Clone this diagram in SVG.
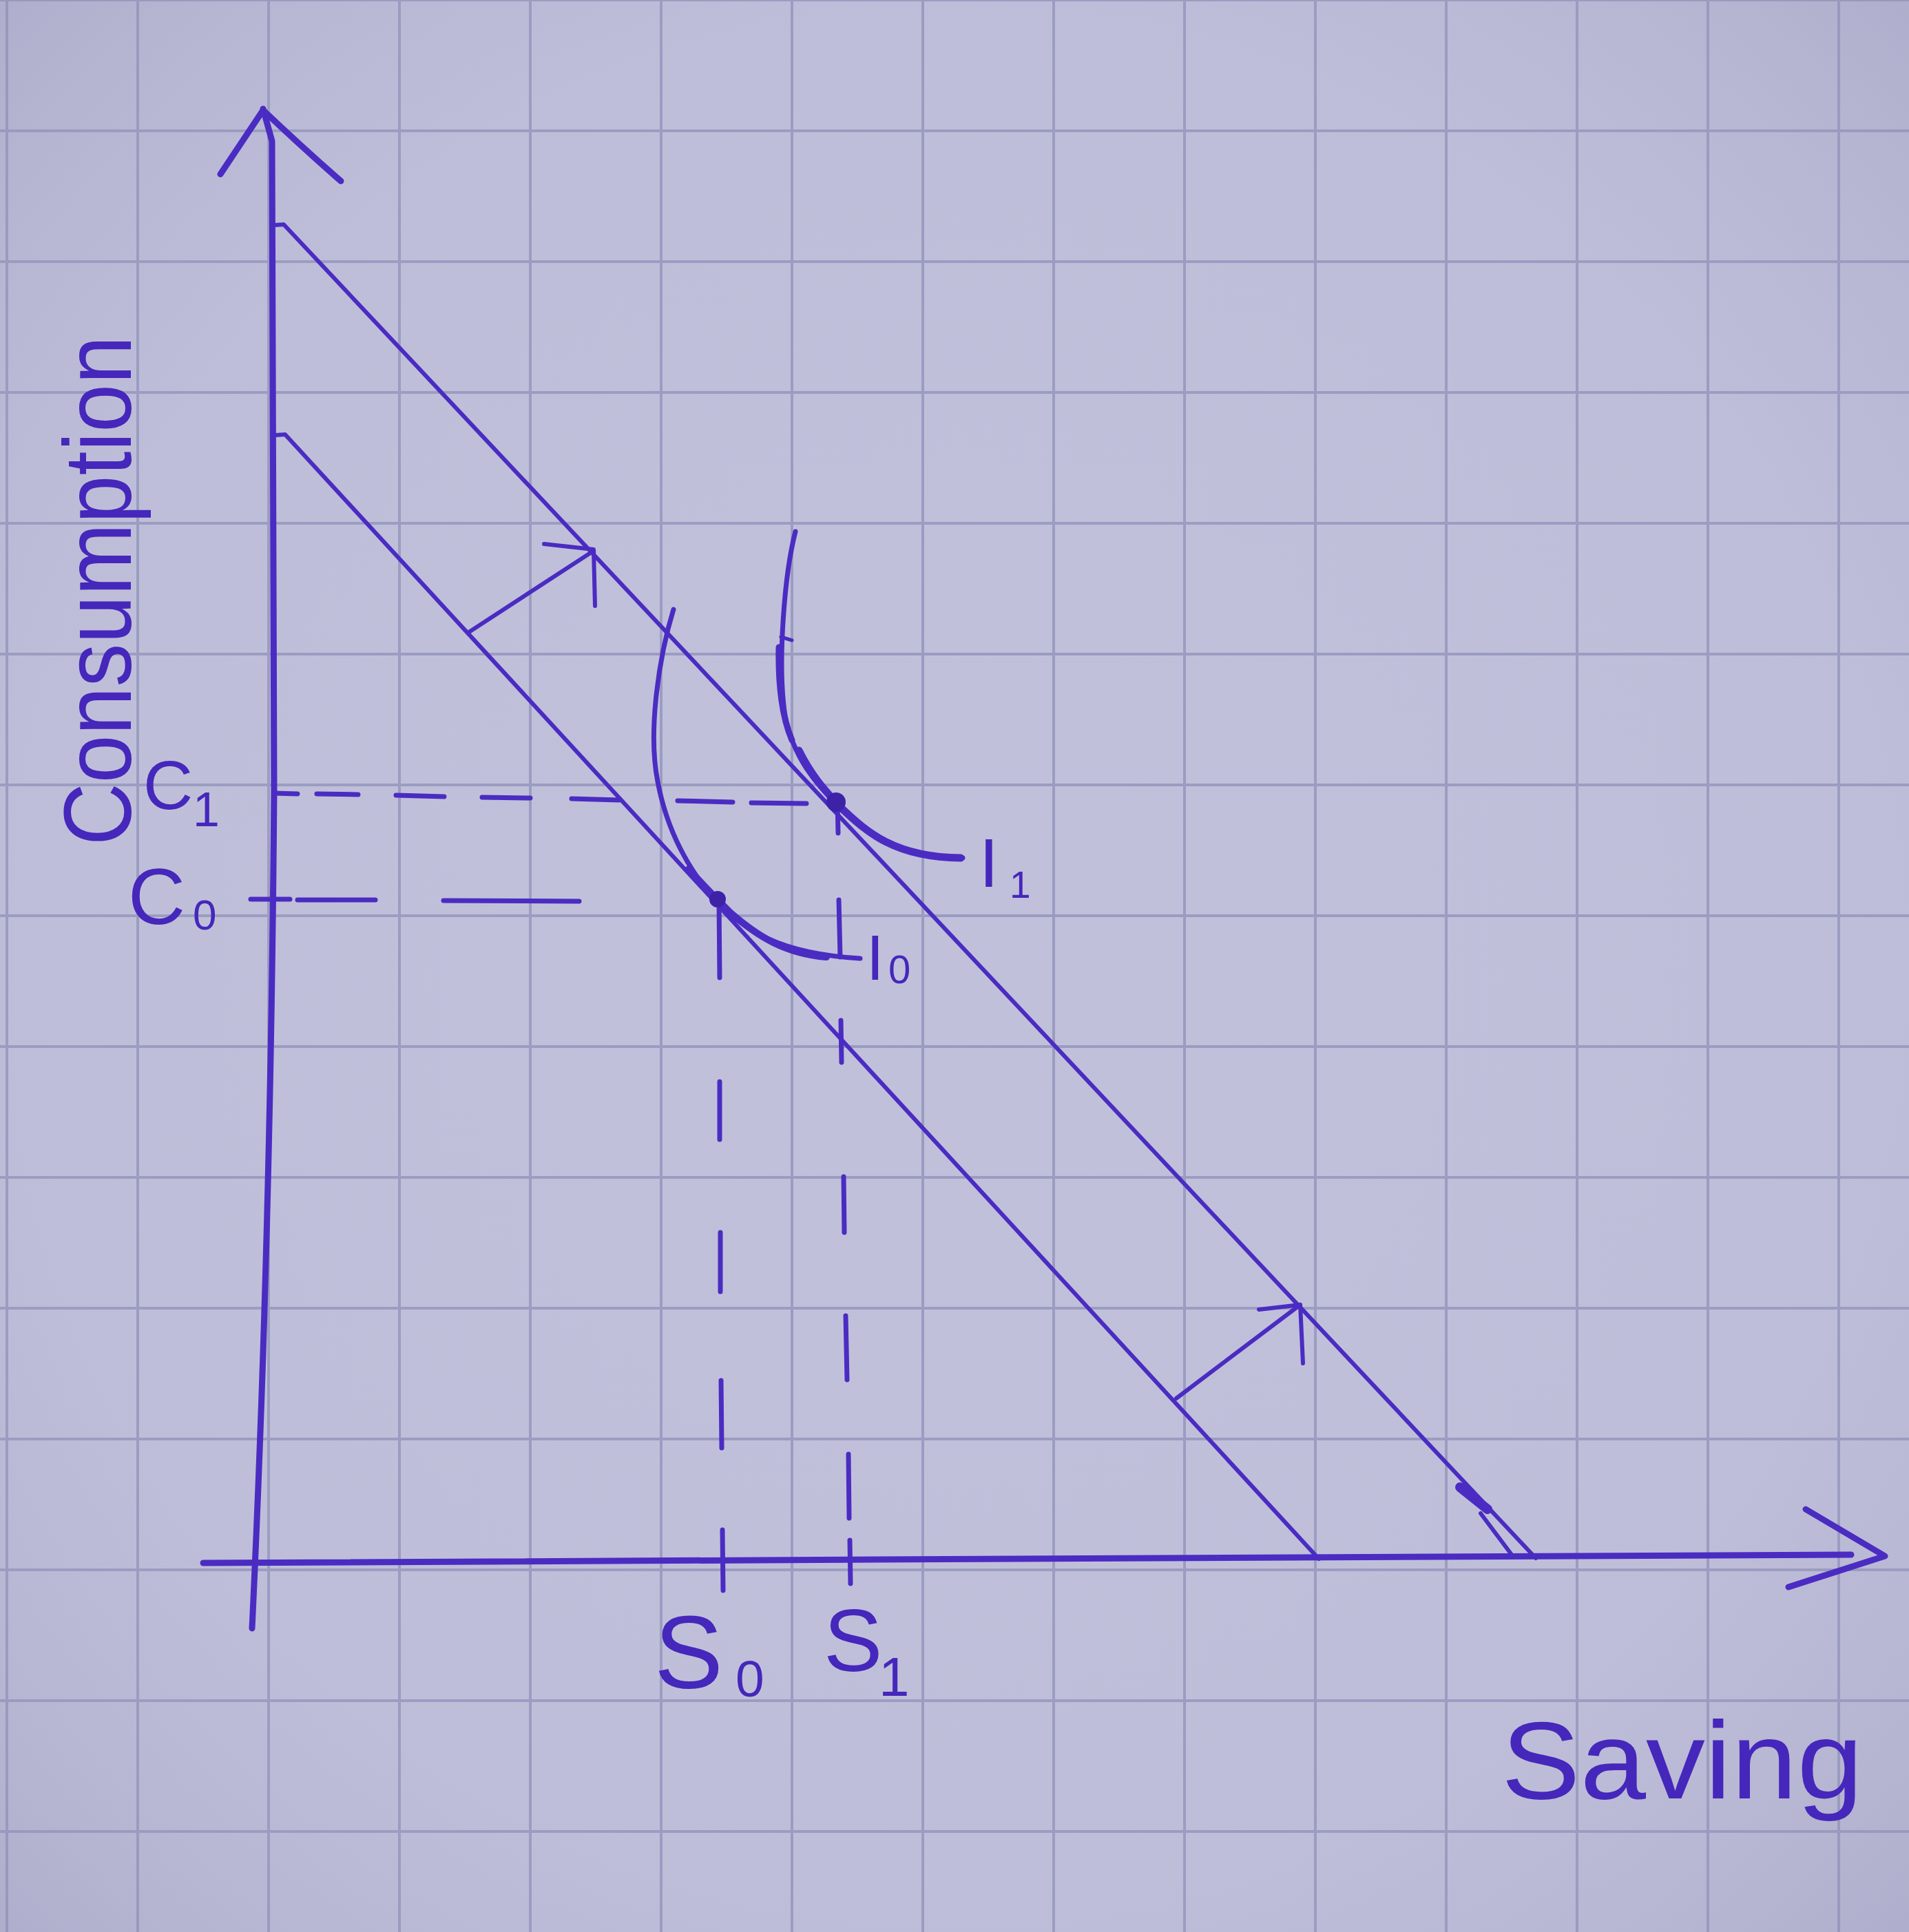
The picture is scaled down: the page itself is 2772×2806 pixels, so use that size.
<svg xmlns="http://www.w3.org/2000/svg" width="2772" height="2806" viewBox="0 0 2772 2806">
  <defs>
    <radialGradient id="vignette" cx="50%" cy="50%" r="75%">
      <stop offset="0" stop-color="#c4c3dd" stop-opacity="0"/>
      <stop offset="0.65" stop-color="#a9a8c8" stop-opacity="0.1"/>
      <stop offset="1" stop-color="#8e8db0" stop-opacity="0.45"/>
    </radialGradient>
    <pattern id="grid" width="190" height="190" patternUnits="userSpaceOnUse" x="8" y="-2">
      <path d="M2 0 V190 M0 2 H190" stroke="#999bc0" stroke-width="4" fill="none"/>
    </pattern>
    <style>
      .ink { fill: none; stroke: #4a2cc2; stroke-linecap: round; stroke-linejoin: round; }
      .axis { stroke-width: 9; }
      .line { stroke-width: 6; }
      .curve { stroke-width: 7; }
      .thick { stroke-width: 11; }
      .dash { stroke-width: 7; }
      .arrow { stroke-width: 6; }
      .lbl { fill: #4527bb; font-family: "Liberation Sans", "DejaVu Sans", sans-serif; }
      .blob { fill: #3d22a8; }
    </style>
  </defs>

  <g id="paper">
    <rect x="0" y="0" width="2772" height="2806" fill="#c1c0db"/>
    <rect x="0" y="0" width="2772" height="2806" fill="url(#grid)"/>
    <rect x="0" y="0" width="2772" height="2806" fill="url(#vignette)"/>
  </g>

  <g id="axes">
    <path class="ink axis" d="M382,158 L395,205 L398,1150 Q393,1800 366,2365"/>
    <path class="ink axis" d="M320,253 L382,160 Q440,215 495,263"/>
    <path class="ink axis" d="M295,2270 L2688,2258"/>
    <path class="ink axis" d="M2622,2192 L2737,2260 L2597,2305"/>
  </g>

  <g id="budget-lines">
    <path class="ink line" d="M398,327 L412,326 L2230,2263"/>
    <path class="ink line" d="M2150,2198 L2195,2258"/>
    <path class="ink" stroke-width="14" d="M2120,2160 L2160,2192"/>
    <path class="ink line" d="M400,632 L414,631 L1915,2264"/>
  </g>

  <g id="shift-arrows">
    <path class="ink arrow" d="M681,918 L862,800"/>
    <path class="ink arrow" d="M790,790 L862,798 L864,880"/>
    <path class="ink arrow" d="M1708,2031 L1888,1895"/>
    <path class="ink arrow" d="M1828,1902 L1888,1895 L1892,1980"/>
  </g>

  <g id="guides">
    <path class="ink dash" d="M398,1152 L432,1153 M460,1153 L520,1154 M575,1155 L645,1157 M700,1158 L770,1159 M830,1160 L899,1162 M984,1163 L1064,1165 M1091,1166 L1171,1167"/>
    <path class="ink dash" d="M364,1306 L421,1306 M432,1307 L545,1307 M644,1308 L841,1309"/>
    <path class="ink dash" d="M1044,1306 L1045,1420 M1045,1571 L1045,1655 M1046,1790 L1046,1876 M1047,2005 L1048,2103 M1049,2222 L1050,2310"/>
    <path class="ink dash" d="M1216,1160 L1217,1210 M1218,1307 L1220,1390 M1221,1482 L1222,1543 M1225,1709 L1226,1790 M1228,1911 L1230,2004 M1232,2112 L1233,2205 M1234,2237 L1235,2300"/>
  </g>

  <g id="indifference-curves">
    <g id="I0">
      <path class="ink curve" d="M978,885 C958,950 940,1060 955,1135 C968,1205 1000,1265 1040,1308 C1080,1350 1130,1385 1249,1392"/>
      <path class="ink" stroke-width="10" d="M1000,1262 C1020,1285 1035,1300 1060,1325 C1100,1360 1140,1385 1200,1390"/>
      <circle class="blob" cx="1042" cy="1306" r="12"/>
    </g>
    <g id="I1">
      <path class="ink curve" d="M1155,772 C1140,830 1128,960 1140,1040 C1152,1100 1185,1140 1220,1172 C1260,1210 1300,1245 1398,1246"/>
      <path class="ink" stroke-width="9" d="M1131,940 C1130,990 1135,1040 1150,1075"/>
      <path class="ink thick" d="M1160,1090 C1180,1130 1200,1150 1220,1172 C1260,1210 1300,1245 1395,1246"/>
      <path class="ink" stroke-width="5" d="M1134,925 L1150,930"/>
      <circle class="blob" cx="1214" cy="1165" r="14"/>
    </g>
  </g>

  <g id="labels">
    <text class="lbl" font-size="140" transform="translate(190,858) rotate(-90)" text-anchor="middle" textLength="740" lengthAdjust="spacingAndGlyphs">Consumption</text>
    <text class="lbl" x="208" y="1175" font-size="100">C</text>
    <text class="lbl" x="280" y="1200" font-size="70">1</text>
    <text class="lbl" x="186" y="1342" font-size="115">C</text>
    <text class="lbl" x="280" y="1350" font-size="62">0</text>
    <text class="lbl" x="950" y="2452" font-size="150">S</text>
    <text class="lbl" x="1068" y="2464" font-size="75">0</text>
    <text class="lbl" x="1196" y="2427" font-size="128">S</text>
    <text class="lbl" x="1276" y="2463" font-size="80">1</text>
    <text class="lbl" x="1422" y="1288" font-size="100">I</text>
    <text class="lbl" x="1466" y="1304" font-size="55">1</text>
    <text class="lbl" x="1258" y="1423" font-size="92">I</text>
    <text class="lbl" x="1290" y="1428" font-size="58">0</text>
    <text class="lbl" x="2180" y="2612" font-size="160" textLength="525" lengthAdjust="spacingAndGlyphs">Saving</text>
  </g>
</svg>
